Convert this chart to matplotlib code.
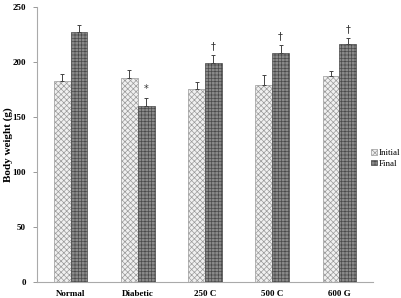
import numpy as np
import matplotlib.pyplot as plt

groups = ['Normal', 'Diabetic', '250 C', '500 C', '600 G']
initial = [183, 185, 175.5, 179.5, 187]
final = [227.5, 160, 199.5, 208.5, 216]
initial_err = [6.5, 8, 6, 8.5, 5]
final_err = [6.5, 7.5, 7, 7, 6]
marks = ['', '*', '\u2020', '\u2020', '\u2020']

plt.rcParams['hatch.linewidth'] = 0.5

fig = plt.figure(figsize=(4.02, 2.98), dpi=100)
ax = fig.add_axes([0.092, 0.054, 0.836, 0.9225])

x = np.arange(len(groups))
w = 0.25

plt.rcParams['hatch.color'] = '#9a9a9a'
b1 = ax.bar(x - w / 2, initial, w, color='#f0f0f0', edgecolor='#9a9a9a',
            hatch='xxxxxx', linewidth=0.5, label='Initial')
b2 = ax.bar(x + w / 2, final, w, color='#8a8a8a', edgecolor='#4a4a4a',
            hatch='+++++', linewidth=0.5, label='Final')

ax.errorbar(x - w / 2, initial, yerr=[np.zeros(5), initial_err], fmt='none',
            ecolor='#444444', elinewidth=0.7, capsize=1.5, capthick=0.7)
ax.errorbar(x + w / 2, final, yerr=[np.zeros(5), final_err], fmt='none',
            ecolor='#444444', elinewidth=0.7, capsize=1.5, capthick=0.7)

for i, m in enumerate(marks):
    if m:
        ax.text(x[i] + w / 2, final[i] + final_err[i] + 3, m, ha='center', va='bottom',
                fontsize=7, family='DejaVu Sans', color='#333333')

ax.set_xlim(-0.5, 4.5)
ax.set_ylim(0, 250)
ax.set_yticks([0, 50, 100, 150, 200, 250])
ax.set_xticks(x)
ax.set_xticklabels(groups)
for lab in ax.get_xticklabels() + ax.get_yticklabels():
    lab.set_family('Liberation Serif')
    lab.set_fontweight('bold')
    lab.set_fontsize(6.5)
ax.tick_params(axis='x', length=0, pad=6)
ax.tick_params(axis='y', length=3, width=0.6, color='#888888', pad=5)
ax.spines['top'].set_visible(False)
ax.spines['right'].set_visible(False)
ax.spines['left'].set_color('#aaaaaa')
ax.spines['bottom'].set_color('#aaaaaa')
ax.spines['left'].set_linewidth(0.8)
ax.spines['bottom'].set_linewidth(0.8)

ax.set_ylabel('Body weight (g)', family='Liberation Serif', fontweight='bold',
              fontsize=8)
ax.yaxis.set_label_coords(-0.072, 0.5)

ax.legend(loc='center left', bbox_to_anchor=(0.995, 0.45), frameon=False,
          prop={'family': 'Liberation Serif', 'size': 6.5}, handlelength=0.6,
          handleheight=0.6, handletextpad=0.2, labelspacing=0.3, borderpad=0,
          borderaxespad=0)

fig.savefig('out.png', dpi=100)
